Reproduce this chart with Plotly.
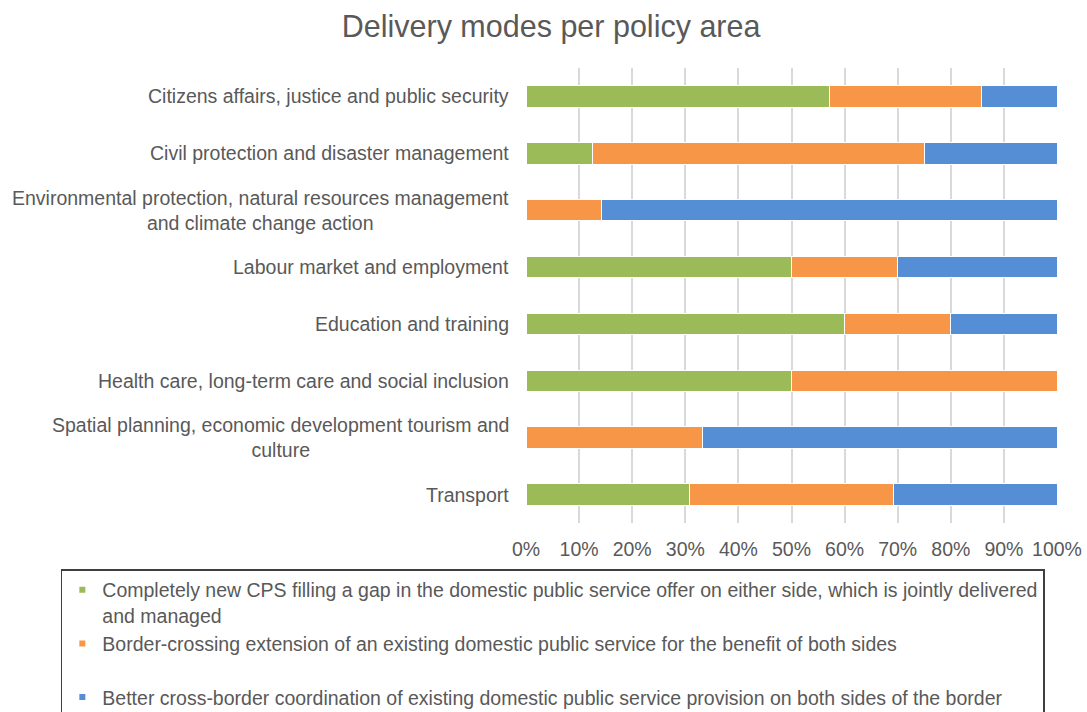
import plotly.graph_objects as go

# Policy areas (top to bottom) and share of each delivery mode, in percent
areas = [
    "Citizens affairs, justice and public security",
    "Civil protection and disaster management",
    "Environmental protection, natural resources management<br>and climate change action",
    "Labour market and employment",
    "Education and training",
    "Health care, long-term care and social inclusion",
    "Spatial planning, economic development tourism and<br>culture",
    "Transport",
]
new_cps = [57.1, 12.5, 0.0, 50.0, 60.0, 50.0, 0.0, 30.8]
extension = [28.6, 62.5, 14.3, 20.0, 20.0, 50.0, 33.3, 38.5]
coordination = [14.3, 25.0, 85.7, 30.0, 20.0, 0.0, 66.7, 30.8]

series_names = [
    "Completely new CPS filling a gap in the domestic public service offer on either side, which is jointly delivered<br>and managed",
    "Border-crossing extension of an existing domestic public service for the benefit of both sides<br> ",
    "Better cross-border coordination of existing domestic public service provision on both sides of the border",
]
series_values = [new_cps, extension, coordination]
colors = ["#9BBB59", "#F79646", "#558ED5"]

tick_vals = [0, 10, 20, 30, 40, 50, 60, 70, 80, 90, 100]
tick_text = [f"{v}%" for v in tick_vals]

FONT = "Liberation Sans, Arial, sans-serif"
TEXT = "#595959"
FS = 19.5

fig = go.Figure()
for name, vals, col in zip(series_names, series_values, colors):
    fig.add_trace(go.Bar(
        y=areas, x=vals, orientation="h", name=name,
        marker=dict(color=col, line=dict(color="white", width=1)),
        showlegend=False,
    ))
# small square swatches for the legend
for i, (name, col) in enumerate(zip(series_names, colors)):
    fig.add_trace(go.Scatter(
        x=[None], y=[None], mode="markers", name=name, legendgroup=f"g{i}",
        marker=dict(symbol="square", size=6, color=col),
    ))

# category labels, centred line by line
for a in areas:
    fig.add_annotation(
        x=0, xref="paper", y=a, yref="y", text=a, showarrow=False,
        xanchor="right", xshift=-15, align="center",
        font=dict(family=FONT, size=FS, color=TEXT),
    )

fig.update_layout(
    width=1087, height=712,
    margin=dict(l=526, r=30, t=68, b=189, autoexpand=False),
    paper_bgcolor="white", plot_bgcolor="white",
    barmode="stack", bargap=0.62,
    title=dict(text="Delivery modes per policy area", x=0.507, xanchor="center",
               y=0.963, yanchor="middle",
               font=dict(family=FONT, size=30.5, color=TEXT)),
    font=dict(family=FONT, size=FS, color=TEXT),
    xaxis=dict(range=[0, 100], tickvals=tick_vals, ticktext=tick_text,
               showgrid=True, gridcolor="#D9D9D9", gridwidth=1.5,
               zeroline=False, showline=False, ticks="", ticklabelstandoff=12,
               tickfont=dict(family=FONT, size=FS, color=TEXT), fixedrange=True),
    yaxis=dict(categoryorder="array", categoryarray=areas, autorange="reversed",
               showticklabels=False, showgrid=False, zeroline=False, ticks=""),
    legend=dict(x=-0.876, xanchor="left", y=-0.1011, yanchor="top",
                traceorder="grouped", valign="top", tracegroupgap=0,
                bordercolor="#3F3F3F", borderwidth=1.5, bgcolor="white",
                font=dict(family=FONT, size=FS, color=TEXT)),
    showlegend=True,
)

fig.write_html("out.html")
